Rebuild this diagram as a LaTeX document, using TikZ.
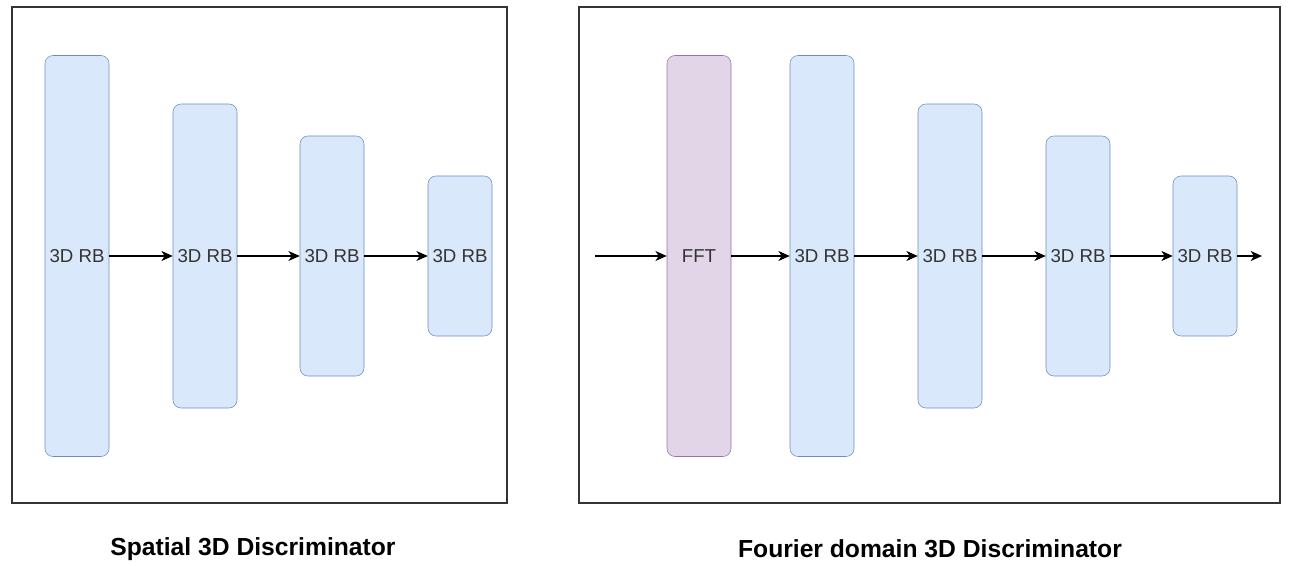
\documentclass[tikz,border=0pt]{standalone}
\usepackage{fontspec}
\setmainfont{Liberation Sans}
\usetikzlibrary{arrows.meta}
\definecolor{rbfill}{HTML}{DAE8FC}
\definecolor{rbdraw}{HTML}{6C8EBF}
\definecolor{fftfill}{HTML}{E1D5E7}
\definecolor{fftdraw}{HTML}{9673A6}

\begin{document}
\begin{tikzpicture}[x=.75pt,y=-.75pt,
  rb/.style={draw=rbdraw,fill=rbfill,rounded corners=6pt,minimum width=48pt,inner sep=0pt,
    font=\fontsize{14}{16}\selectfont,text=black!80},
  fftbox/.style={rb,draw=fftdraw,fill=fftfill},
  frame/.style={draw=black!80,line width=1.1pt},
  link/.style={-{Stealth[length=8.5pt,width=7.5pt,inset=2.5pt]},line width=.9pt},
  caption/.style={font=\fontsize{18.5}{22}\selectfont\bfseries}]
\useasboundingbox (0,0) rectangle (1297,565);
\draw[frame] (12,7) rectangle (507,503);
\draw[frame] (579,7) rectangle (1280,503);
% spatial discriminator
\foreach \i/\x/\h in {1/77/300.75pt,2/205/228pt,3/332/180pt,4/460/120pt}
  \node[rb,minimum height=\h] (s\i) at (\x,256) {3D RB};
\foreach \a/\b in {1/2,2/3,3/4} \draw[link] (s\a) -- (s\b);
\node[caption] (stitle) at (253,549) {Spatial 3D Discriminator};
% fourier domain discriminator
\node[fftbox,minimum height=300.75pt] (fft) at (699,256) {FFT};
\foreach \i/\x/\h in {1/822/300.75pt,2/950/228pt,3/1078/180pt,4/1205/120pt}
  \node[rb,minimum height=\h] (f\i) at (\x,256) {3D RB};
\coordinate (fin) at (595,256);
\coordinate (fout) at (1262,256);
\draw[link] (fin) -- (fft);
\draw[link] (fft) -- (f1);
\foreach \a/\b in {1/2,2/3,3/4} \draw[link] (f\a) -- (f\b);
\draw[link] (f4) -- (fout);
\node[caption] (ftitle) at (930,549) {Fourier domain 3D Discriminator};
\end{tikzpicture}
\end{document}
